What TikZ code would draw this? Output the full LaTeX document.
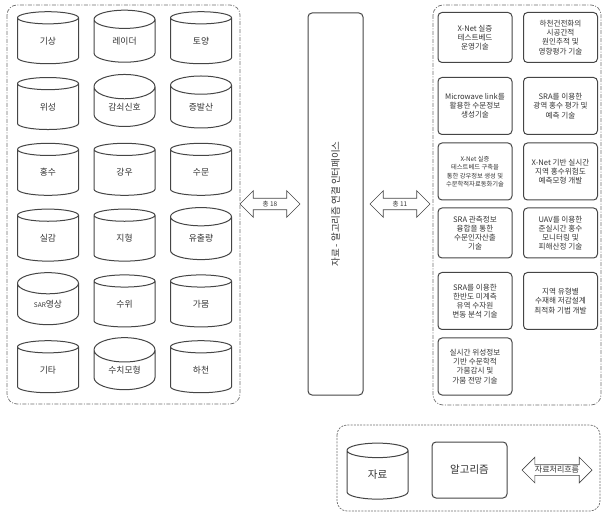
\documentclass[tikz,border=0pt]{standalone}
\usepackage{fontspec}
\setmainfont{Noto Sans CJK KR}
\usetikzlibrary{shapes.geometric,shapes.arrows}
\definecolor{diagline}{HTML}{454545}
\definecolor{diagpanel}{HTML}{6E6E6E}
\definecolor{diagtext}{HTML}{333333}

\begin{document}
\begin{tikzpicture}[
  x=1pt,
  y=-1pt,
  every node/.style={font=\fontsize{8.8}{10}\selectfont, diagtext},
  panel/.style={draw=diagpanel, line width=0.7pt, rounded corners=10pt,
                dash pattern=on 4pt off 1.5pt on 1pt off 1.5pt},
  legendpanel/.style={draw=diagpanel, line width=0.7pt, rounded corners=10pt,
                      dash pattern=on 2pt off 1.2pt},
  datacyl/.style={cylinder, shape border rotate=90, draw=diagline,
                  line width=1pt, aspect=0.75, inner sep=0pt,
                  minimum width=61pt, minimum height=52pt},
  techbox/.style={draw=diagline, line width=1pt, rounded corners=4pt,
                  minimum width=74pt, minimum height=50pt, align=center,
                  inner sep=1pt, font=\fontsize{7.6}{9.2}\selectfont},
  tallbox/.style={techbox, minimum height=57pt},
  ifacebox/.style={draw=diagline, line width=1pt, rounded corners=4pt,
                   minimum width=55pt, minimum height=382pt},
  flowarrow/.style={double arrow, draw=diagline, line width=0.7pt,
                    double arrow head extend=7.5pt, minimum height=60pt,
                    inner xsep=1pt, inner ysep=2.5pt,
                    font=\fontsize{6.5}{7}\selectfont}
]
  \useasboundingbox (0,0) rectangle (603,513);

  %% ---- 자료 패널 ------------------------------------------------------
  \draw[panel] (7,5) rectangle (240,404);
  \foreach \lbl [count=\i from 0] in {기상, 레이더, 토양, 위성, 감쇠신호, 증발산,
      홍수, 강우, 수문, 실감, 지형, 유출량, {{\fontsize{6.5}{7}\selectfont SAR}영상},
      수위, 가뭄, 기타, 수치모형, 하천} {
    \pgfmathtruncatemacro\col{mod(\i,3)}
    \pgfmathtruncatemacro\row{div(\i,3)}
    \node[datacyl] (data\i) at ({48+76.5*\col},{41+65.8*\row}) {\lbl};
  }

  %% ---- 연결 인터페이스 --------------------------------------------------
  \node[ifacebox] (iface) at (335.5,204) {};
  \node[rotate=90, font=\fontsize{9.5}{10}\selectfont] (ifacelabel)
    at (iface.center) {자료 - 알고리즘 연결 인터페이스};

  \node[flowarrow] (toiface) at (270,204) {총 18};
  \node[flowarrow] (toalgo) at (400,204) {총 11};

  %% ---- 알고리즘 패널 --------------------------------------------------
  \draw[panel] (433,5) rectangle (601,405);

  \node[techbox] (algo1) at (475,37.5) {X-Net 실증\\테스트베드\\운영기술};
  \node[techbox] (algo2) at (560.5,37.5) {하천건전화의\\시공간적\\원인추적 및\\영향평가 기술};
  \node[tallbox] (algo3) at (475,106) {Microwave link를\\활용한 수문정보\\생성기술};
  \node[tallbox] (algo4) at (560.5,106) {SRA를 이용한\\광역 홍수 평가 및\\예측 기술};
  \node[tallbox, font=\fontsize{6.3}{8.3}\selectfont] (algo5) at (475,171.5)
    {X-Net 실증\\테스트베드 구축을\\통한 강우정보 생성 및\\수문학적자료동화기술};
  \node[tallbox] (algo6) at (560.5,171.5) {X-Net 기반 실시간\\지역 홍수위험도\\예측모형 개발};
  \node[techbox] (algo7) at (475,233) {SRA 관측정보\\융합을 통한\\수문인자산출\\기술};
  \node[techbox] (algo8) at (560.5,233) {UAV를 이용한\\준실시간 홍수\\모니터링 및\\피해산정 기술};
  \node[tallbox] (algo9) at (475,301) {SRA를 이용한\\한반도 미계측\\유역 수자원\\변동 분석 기술};
  \node[tallbox] (algo10) at (560.5,301) {지역 유형별\\수재해 저감설계\\최적화 기법 개발};
  \node[tallbox] (algo11) at (475,366.5) {실시간 위성정보\\기반 수문학적\\가뭄감시 및\\가뭄 전망 기술};

  %% ---- 범례 -----------------------------------------------------------
  \draw[legendpanel] (337,425) rectangle (600,511);
  \node[datacyl, minimum height=56pt, font=\fontsize{10.5}{12}\selectfont]
    (legdata) at (377.5,475) {자료};
  \node[ifacebox, minimum width=75pt, minimum height=56pt,
        font=\fontsize{10.5}{12}\selectfont] (legalgo) at (469.5,470) {알고리즘};
  \node[flowarrow, minimum height=70pt, inner ysep=5pt] (legflow) at (557,470) {};
  \node[font=\fontsize{8}{9}\selectfont, inner sep=0pt] (legflowlabel)
    at (legflow.center) {자료처리흐름};

\end{tikzpicture}
\end{document}
